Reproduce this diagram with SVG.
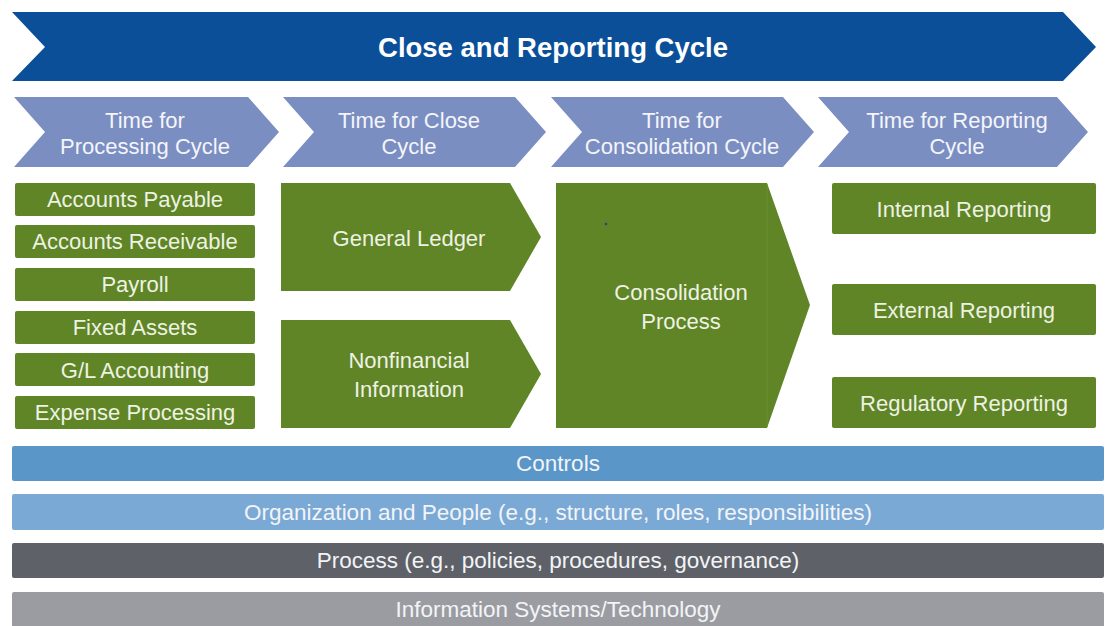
<svg xmlns="http://www.w3.org/2000/svg" width="1106" height="626" viewBox="0 0 1106 626">
  <style>
    .banner { fill: #0a4f98; }
    .phase { fill: #7b8ec2; }
    .step { fill: #5f8527; }
    .t { font-family: "Liberation Sans", Arial, sans-serif; text-anchor: middle; }
    .title { fill: #ffffff; font-size: 27.5px; font-weight: bold; }
    .phase-t { fill: #f4f5fa; font-size: 22px; }
    .step-t { fill: #eef2e2; font-size: 22px; }
    .bar-t { fill: #f2f4f7; font-size: 22.5px; }
  </style>

  <rect width="1106" height="626" fill="#ffffff"/>

  <!-- overall cycle banner -->
  <g id="banner">
    <polygon class="banner" points="12,12 1063,12 1096,47 1063,81 12,81 45,47"/>
    <text class="t title" x="553" y="57">Close and Reporting Cycle</text>
  </g>

  <!-- phase chevrons -->
  <g id="phase-processing">
    <polygon class="phase" points="14,97 248,97 279,132 248,167 14,167 45,132"/>
    <text class="t phase-t" x="145" y="128">Time for</text>
    <text class="t phase-t" x="145" y="154">Processing Cycle</text>
  </g>
  <g id="phase-close">
    <polygon class="phase" points="283,97 515,97 546,132 515,167 283,167 314,132"/>
    <text class="t phase-t" x="409" y="128">Time for Close</text>
    <text class="t phase-t" x="409" y="154">Cycle</text>
  </g>
  <g id="phase-consolidation">
    <polygon class="phase" points="551,97 783,97 814,132 783,167 551,167 582,132"/>
    <text class="t phase-t" x="682" y="128">Time for</text>
    <text class="t phase-t" x="682" y="154">Consolidation Cycle</text>
  </g>
  <g id="phase-reporting">
    <polygon class="phase" points="818,97 1057,97 1088,132 1057,167 818,167 849,132"/>
    <text class="t phase-t" x="957" y="128">Time for Reporting</text>
    <text class="t phase-t" x="957" y="154">Cycle</text>
  </g>

  <!-- processing sub-ledgers -->
  <g id="accounts-payable">
    <rect class="step" x="15" y="183" width="240" height="33" rx="2"/>
    <text class="t step-t" x="135" y="207">Accounts Payable</text>
  </g>
  <g id="accounts-receivable">
    <rect class="step" x="15" y="225" width="240" height="33" rx="2"/>
    <text class="t step-t" x="135" y="249">Accounts Receivable</text>
  </g>
  <g id="payroll">
    <rect class="step" x="15" y="268" width="240" height="33" rx="2"/>
    <text class="t step-t" x="135" y="292">Payroll</text>
  </g>
  <g id="fixed-assets">
    <rect class="step" x="15" y="311" width="240" height="33" rx="2"/>
    <text class="t step-t" x="135" y="335">Fixed Assets</text>
  </g>
  <g id="gl-accounting">
    <rect class="step" x="15" y="353" width="240" height="33" rx="2"/>
    <text class="t step-t" x="135" y="378">G/L Accounting</text>
  </g>
  <g id="expense-processing">
    <rect class="step" x="15" y="396" width="240" height="33" rx="2"/>
    <text class="t step-t" x="135" y="420">Expense Processing</text>
  </g>

  <!-- close cycle -->
  <g id="general-ledger">
    <polygon class="step" points="281,183 510,183 541,237 510,291 281,291"/>
    <text class="t step-t" x="409" y="246">General Ledger</text>
  </g>
  <g id="nonfinancial-information">
    <polygon class="step" points="281,320 510,320 541,374 510,428 281,428"/>
    <text class="t step-t" x="409" y="368">Nonfinancial</text>
    <text class="t step-t" x="409" y="397">Information</text>
  </g>

  <!-- consolidation -->
  <g id="consolidation-process">
    <polygon class="step" points="556,183 767,183 810,305 767,428 556,428"/>
    <line x1="767" y1="184" x2="767" y2="427" stroke="#6a8f33" stroke-width="1"/>
    <circle cx="606" cy="224" r="1.3" fill="#2b3f8f"/>
    <text class="t step-t" x="681" y="300">Consolidation</text>
    <text class="t step-t" x="681" y="329">Process</text>
  </g>

  <!-- reporting outputs -->
  <g id="internal-reporting">
    <rect class="step" x="832" y="183" width="264" height="51" rx="2"/>
    <text class="t step-t" x="964" y="217">Internal Reporting</text>
  </g>
  <g id="external-reporting">
    <rect class="step" x="832" y="284" width="264" height="51" rx="2"/>
    <text class="t step-t" x="964" y="318">External Reporting</text>
  </g>
  <g id="regulatory-reporting">
    <rect class="step" x="832" y="377" width="264" height="51" rx="2"/>
    <text class="t step-t" x="964" y="411">Regulatory Reporting</text>
  </g>

  <!-- foundation layers -->
  <g id="controls">
    <rect x="12" y="446" width="1092" height="35" rx="2" fill="#5b96c9"/>
    <text class="t bar-t" x="558" y="471">Controls</text>
  </g>
  <g id="organization-people">
    <rect x="12" y="494" width="1092" height="36" rx="2" fill="#7ba9d6"/>
    <text class="t bar-t" x="558" y="520">Organization and People (e.g., structure, roles, responsibilities)</text>
  </g>
  <g id="process">
    <rect x="12" y="543" width="1092" height="35" rx="2" fill="#5e6167"/>
    <text class="t bar-t" x="558" y="568">Process (e.g., policies, procedures, governance)</text>
  </g>
  <g id="information-systems">
    <rect x="12" y="592" width="1092" height="40" rx="2" fill="#9b9ca1"/>
    <text class="t bar-t" x="558" y="617">Information Systems/Technology</text>
  </g>

  <!-- no connectors between layers; flow is carried by the chevron shapes -->
  <g id="connectors"/>
</svg>
